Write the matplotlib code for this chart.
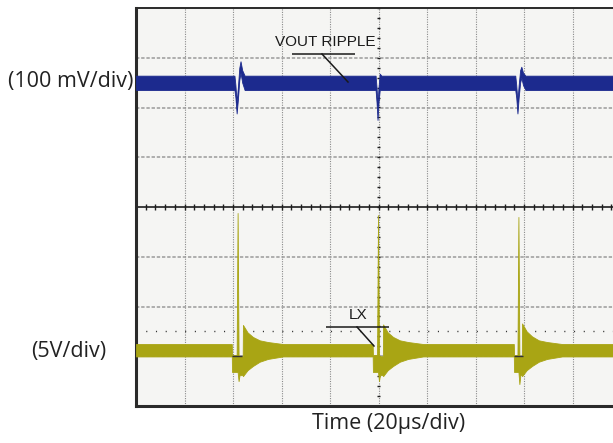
import numpy as np
import matplotlib
matplotlib.use("Agg")
import matplotlib.pyplot as plt

# ---------------- data ----------------
# VOUT ripple envelope, mV relative to its DC level (100 mV/div)
vout_time_us = [0, 40.6, 41.0, 41.5, 42.0, 42.6, 43.1, 43.8, 44.8,
                98.8, 99.2, 99.6, 100.0, 100.5, 101.2,
                156.4, 156.8, 157.3, 157.8, 158.4, 158.9, 159.6, 160.6, 200]
vout_upper_mv = [14, 14, -5, -40, -10, 30, 43, 25, 14,
                 14, -10, -45, -10, 18, 14,
                 14, -5, -38, -5, 25, 32, 20, 14, 14]
vout_lower_mv = [-15, -15, -30, -62, -35, 5, 20, 0, -15,
                 -15, -40, -75, -40, -15, -15,
                 -15, -30, -62, -30, 0, 10, -5, -15, -15]

# LX switching node envelope, V relative to its steady level (5 V/div)
lx_time_us = [0, 39.5, 39.6, 41.5, 41.9, 42.3, 42.7, 44.0, 44.1, 46.0, 48.2, 51.0, 54.4, 60.6,
              97.6, 97.7, 99.4, 99.8, 100.2, 100.6, 101.8, 101.9, 103.8, 106.0, 108.8, 112.2, 118.4,
              155.8, 155.9, 157.3, 157.7, 158.1, 158.5, 159.1, 159.2, 161.1, 163.3, 166.1, 169.5, 175.7, 200]
lx_upper_v = [0.63, 0.63, -0.47, -0.47, 13.8, -0.47, -0.6, -0.6, 2.55, 1.8, 1.34, 1.0, 0.83, 0.63,
              0.63, -0.47, -0.47, 13.6, -0.47, -0.6, -0.6, 2.6, 1.8, 1.34, 1.0, 0.83, 0.63,
              0.63, -0.47, -0.47, 13.4, -0.47, -0.6, -0.6, 2.7, 1.9, 1.4, 1.0, 0.83, 0.63, 0.63]
lx_lower_v = [-0.62, -0.62, -2.18, -2.18, -2.18, -3.1, -2.5, -2.5, -2.6, -2.0, -1.58, -1.15, -0.87, -0.62,
              -0.62, -2.18, -2.18, -2.18, -3.1, -2.5, -2.5, -2.6, -2.0, -1.58, -1.15, -0.87, -0.62,
              -0.62, -2.18, -2.18, -2.18, -3.4, -2.5, -2.5, -2.6, -2.0, -1.58, -1.15, -0.87, -0.62, -0.62]

# scope settings
time_per_div_us = 20
vout_mv_per_div = 100
lx_v_per_div = 5
vout_offset_div = 2.50
lx_offset_div = -2.88
marker_level_div = -2.5

# ---------------- figure ----------------
W, H = 613, 443
fig = plt.figure(figsize=(W / 100, H / 100), dpi=100)
fig.patch.set_facecolor("white")

left_px, top_px, bottom_px, right_px = 136, 8, 406, 621
ax = fig.add_axes([left_px / W, (H - bottom_px) / H,
                   (right_px - left_px) / W, (bottom_px - top_px) / H])
ax.set_facecolor("#f5f5f3")
ax.set_xlim(0, 10 * time_per_div_us)
ax.set_ylim(-4, 4)
ax.set_xticks([])
ax.set_yticks([])
for s in ["left", "top", "bottom"]:
    ax.spines[s].set_color("#2a2a2a")
ax.spines["left"].set_linewidth(2.2)
ax.spines["bottom"].set_linewidth(2.2)
ax.spines["top"].set_linewidth(1.4)
ax.spines["right"].set_visible(False)

# grid
for i in range(1, 10):
    if i == 5:
        continue
    ax.axvline(i * time_per_div_us, color="#8a8a8a", lw=0.8, ls=(0, (1, 1.2)), zorder=1)
for j in [-3, -2, -1, 1, 2, 3]:
    ax.axhline(j, color="#9a9a9a", lw=1.1, ls=(0, (2.2, 1.2)), zorder=1)

# center axes with ticks
cx = 5 * time_per_div_us
ax.axhline(0, color="#1e1e1e", lw=1.2, zorder=2)
ax.axvline(cx, color="#8a8a8a", lw=0.8, ls=(0, (1, 1.2)), zorder=1)
tx = np.arange(0, 10 * time_per_div_us + 0.01, time_per_div_us / 5)
ax.vlines(tx, -0.07, 0.07, color="#1e1e1e", lw=1.0, zorder=2)
ty = np.arange(-4, 4.01, 0.2)
ax.hlines(ty, cx - 0.8, cx + 0.8, color="#1e1e1e", lw=1.0, zorder=2)

# LX marker dotted line
ax.axhline(marker_level_div, color="#333333", lw=1.0, ls=(0, (0.8, 6.2)), zorder=2)

# traces
vt = np.array(vout_time_us)
ax.fill_between(vt, vout_offset_div + np.array(vout_upper_mv) / vout_mv_per_div,
                vout_offset_div + np.array(vout_lower_mv) / vout_mv_per_div,
                color="#1c2a8e", lw=0.6, edgecolor="#1c2a8e", zorder=3)
lt = np.array(lx_time_us)
ax.fill_between(lt, lx_offset_div + np.array(lx_upper_v) / lx_v_per_div,
                lx_offset_div + np.array(lx_lower_v) / lx_v_per_div,
                color="#a9a514", lw=0.6, edgecolor="#a9a514", zorder=3)

# small scope markers at the LX dead time
for t0, t1 in [(39.6, 43.6), (155.9, 159.6)]:
    ax.hlines(lx_offset_div - 0.115, t0, t1, color="#333333", lw=1.0, zorder=4)

# annotations
def px2data(x, y):
    return ((x - left_px) / (right_px - left_px) * 10 * time_per_div_us,
            4 - (y - top_px) / (bottom_px - top_px) * 8)

x1, y1 = px2data(292, 54); x2, y2 = px2data(355, 54)
ax.plot([x1, x2], [y1, y2], color="#1a1a1a", lw=1.1, zorder=5, solid_capstyle="butt")
x1, y1 = px2data(322, 54); x2, y2 = px2data(348, 82)
ax.plot([x1, x2], [y1, y2], color="#1a1a1a", lw=1.1, zorder=5)
tx_, ty_ = px2data(325, 42)
ax.text(tx_, ty_, "VOUT RIPPLE", family="Liberation Sans", fontsize=11,
        ha="center", va="center", color="#1a1a1a", zorder=6)

x1, y1 = px2data(326, 327); x2, y2 = px2data(389, 327)
ax.plot([x1, x2], [y1, y2], color="#1a1a1a", lw=1.1, zorder=5, solid_capstyle="butt")
x1, y1 = px2data(357, 327); x2, y2 = px2data(374, 346)
ax.plot([x1, x2], [y1, y2], color="#1a1a1a", lw=1.1, zorder=5)
tx_, ty_ = px2data(358, 315)
ax.text(tx_, ty_, "LX", family="Liberation Sans", fontsize=11,
        ha="center", va="center", color="#1a1a1a", zorder=6)

# side labels
fig.text(8 / W, 1 - 82 / H, "(100 mV/div)", family="Open Sans", fontsize=15.5,
         ha="left", va="center", color="#222222")
fig.text(31 / W, 1 - 352 / H, "(5V/div)", family="Open Sans", fontsize=15.5,
         ha="left", va="center", color="#222222")
fig.text(389 / W, 1 - 424 / H, "Time (20µs/div)", family="Open Sans", fontsize=15.5,
         ha="center", va="center", color="#222222")

fig.savefig("out.png", dpi=100)
